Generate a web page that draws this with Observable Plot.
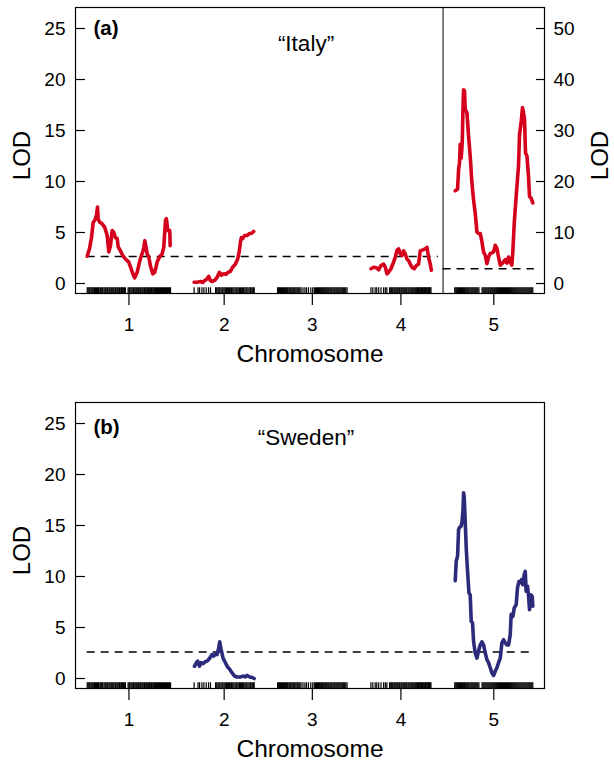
<!DOCTYPE html>
<html><head><meta charset="utf-8">
<script src="https://cdn.jsdelivr.net/npm/d3@7"></script>
<script src="https://cdn.jsdelivr.net/npm/@observablehq/plot@0.6"></script>
<style>
body{margin:0;background:#fff;width:614px;}
#chart svg{display:block;}
</style></head><body><div id="chart"></div>
<script>
// ---- data ----
const chromosomes = [1, 2, 3, 4, 5];
const chromLengths = [107, 77, 89, 78, 100]; // cM
const chromGap = 30;                           // cM between chromosomes
const tickLabels = ["1", "2", "3", "4", "5"];
const yTicks = [0, 5, 10, 15, 20, 25];
const rightTickLabels = [0, 10, 20, 30, 40, 50];
const italyThreshold = 2.65;
const italyThresholdChr5 = 2.9;   // right-axis units
const swedenThreshold = 2.6;

// marker positions (cM within chromosome)
const markers1 = [0,1.2,2.5,3.4,4.8,6,7.1,8.5,9.3,10.6,12,13.1,14.5,15.2,16.8,18,19.3,20.1,21.7,23,24.2,25.5,26.3,27.9,29,30.4,31.5,32.8,34,35.6,36.5,38,39.2,40.6,41.5,43,44.1,45.5,46.3,47.8,49,52.4,53.6,54.5,56,57.2,58.6,59.5,61,62.3,63.5,64.8,66,67.4,68.5,70,71.2,72.6,73.5,75,76.3,77.5,78.8,80,81.4,82.5,84,85.2,86.5,87.6,89,90.2,91.5,92.8,94,95.3,96.5,97.8,99,100.4,101.5,103,104.2,105.5,106.8];
const markers2 = [0,5,7,10,12.5,15.5,18.5,21,27.5,29,30.5,31.8,33,34.5,36,37,38.5,40,41.5,42.5,44,45.5,47,48,49.5,51,52.5,54,55,56.5,58,59.5,61,62,63.5,65,66.5,67.5,69,70.5,72,73,74.5,76,77];
const markers3 = [0,1.3,2.5,3.6,5,6.2,7.5,8.6,10,11.2,12.4,13.5,15,16.1,17.4,18.6,20,21.2,22.3,23.6,25,26.1,27.3,28.5,30,32.5,35,37,39.5,42.5,45,47,48.5,49.8,51,52.3,53.5,54.7,56,57.3,58.5,59.8,61,62.4,63.5,64.8,66,67.3,68.5,69.7,71,72.4,73.5,74.8,76,77.2,78.5,79.8,81,82.4,83.5,84.7,86,87.3,89];
const markers4 = [0.6,3,6,8,10.5,13.5,16.8,19,21,24.5,26,27.2,28.5,30,31.2,32.5,33.8,35,36.3,37.5,39,40.2,41.5,42.8,44,45.3,46.5,48,49.2,50.5,51.8,53,54.2,55.5,56.8,58,59.2,60.5,61.5,62.5,63.5,64.5,65.5,66.5,67.5,68.5,69.5,70.5,71.5,72.5,73.5,74.5,75.5,76.5,77.5];
const markers5 = [0,1.3,2.5,3.7,5,6.2,7.4,8.6,9.8,11,12.3,13.5,14.7,16,17.2,18.4,19.6,21,22.2,23.4,24.6,25.8,27,28.3,29.5,31,35,36.3,37.5,38.8,40,41.2,42.5,43.7,45,46.2,47.5,48.7,50,51.2,52.5,53.7,55,56.2,57.5,58.7,60,61.2,62.5,63.7,65,66.2,67.5,68.7,70,71.2,72.5,73.7,75,76.2,77.5,78.7,80,81.2,82.5,83.7,85,86.2,87.5,88.7,90,91.2,92.5,93.7,95,96.2,97.5,98.7,100];

// Italy LOD profiles [cM, LOD]
const italy1 = [[0,2.68],[2.9,3.4],[5.5,4.5],[7.7,6.0],[9.7,6.2],[11.9,6.7],[13.2,7.5],[14.1,6.3],[16.1,6.0],[19.2,5.85],[22.5,5.5],[25.6,4.7],[27.7,3.1],[29.8,3.7],[32,5.2],[34.1,5.0],[36.2,4.5],[38.4,4.4],[39.7,3.6],[42.6,3.2],[45.6,2.75],[49,2.4],[51.2,2.25],[53.2,2.1],[56.3,1.45],[58.4,0.95],[60.9,0.55],[64,1.1],[67,2.1],[69.5,2.75],[71.2,3.1],[72.5,3.55],[73.8,4.2],[75.5,3.55],[76.8,2.9],[78.9,2.6],[81,1.75],[84,0.95],[86.6,1.1],[89.6,2.1],[92.6,2.6],[96,2.9],[98.1,3.55],[100.3,6.2],[101.5,6.35],[103.2,5.2],[105.8,5.2],[106.3,3.7]];
const italy2 = [[0,0.13],[3.8,0.13],[8.1,0.2],[11,0.1],[13.6,0.3],[16.6,0.45],[18.7,0.7],[20.9,0.3],[23,0.2],[26.4,0.3],[29.4,0.6],[32.4,1.1],[35,0.8],[37.9,0.95],[41,0.9],[43.5,1.1],[46.5,1.2],[49.4,1.6],[52.9,1.9],[55.8,2.4],[58,3.2],[59.3,4.05],[60.6,4.5],[62.2,4.4],[64.8,4.7],[67.9,4.7],[70.8,4.9],[73.4,4.9],[76.3,5.1]];
const italy4 = [[0.6,1.45],[4,1.6],[7.4,1.55],[10.4,1.35],[13.4,1.75],[16.8,1.9],[19,1.6],[21.1,0.95],[23.2,1.1],[26.2,1.45],[29.6,2.1],[31.8,2.6],[33.9,3.25],[36,3.4],[38.2,2.9],[40.3,2.75],[42.4,3.2],[44.6,2.9],[46.7,2.4],[48.8,2.25],[51,1.9],[53.1,1.6],[56.1,1.45],[58.6,1.75],[61.6,1.9],[63.8,3.2],[67.2,3.3],[70.2,3.4],[72.4,3.55],[74.4,2.6],[76.6,1.9],[78,1.3]];
// chromosome 5 in right-axis units (0-50)
const italy5 = [[0.6,18.2],[3.6,18.5],[4.9,22.3],[6.1,23.7],[7,27.3],[8.3,24.6],[9.6,27.6],[10.5,34.2],[11.3,38.0],[12.5,37.8],[13.4,34.2],[15.6,33.5],[17.7,28.9],[19.8,25.0],[22,19.7],[24.1,16.4],[26.2,13.8],[28.4,10.1],[30.5,9.8],[32.7,9.8],[34.8,8.2],[36.9,6.2],[39.1,5.5],[41.2,3.9],[43.3,5.2],[45.5,5.9],[47.6,6.0],[49.7,6.2],[51.9,7.5],[54,6.9],[56.1,5.2],[58.3,3.6],[60.4,3.9],[62.5,4.2],[64.7,4.7],[66.8,4.0],[68.9,5.2],[71.1,4.2],[73.2,3.6],[74.5,6.5],[76.2,11.8],[78.7,17.1],[81.7,23.0],[83,29.2],[85.1,31.6],[86.8,34.5],[88.1,33.5],[89.4,32.2],[90.7,25.6],[92.5,25.0],[94.5,21.0],[95.8,17.1],[98,16.7],[100,15.8]];

// Sweden LOD profiles [cM, LOD]
const sweden2 = [[0.4,1.2],[2.9,1.55],[4.6,1.7],[6.8,1.2],[9,1.55],[11.5,1.45],[14.5,1.65],[17.4,1.75],[20,2.0],[23,2.35],[25.1,2.2],[27.3,2.4],[29.4,2.35],[31.5,3.0],[32.8,3.6],[34.6,2.85],[37.1,2.0],[40.1,1.55],[42.3,1.2],[45.6,0.9],[48.7,0.55],[51.6,0.25],[55.1,0.15],[59.3,0.15],[63.5,0.25],[65.7,0.15],[67.9,0.3],[71.2,0.15],[74.3,0.1],[77,0.0]];
const sweden5 = [[0.6,9.6],[1.9,11.5],[3.6,12.0],[4.9,14.6],[6.1,14.8],[7.9,14.9],[9.2,15.3],[10.5,16.4],[11.3,18.2],[12.2,17.7],[13.4,15.4],[14.7,12.8],[16.4,10.5],[18.2,8.4],[19.8,8.2],[21.1,5.6],[22.8,5.45],[24.1,3.65],[26.2,2.5],[28.4,2.0],[30.5,2.7],[32.7,3.3],[34.8,3.6],[36.9,3.3],[39.1,2.5],[41.2,1.85],[43.3,1.55],[45.5,1.05],[47.6,0.55],[49.7,0.3],[51.9,0.7],[54,1.05],[56.1,1.55],[58.3,2.0],[60.4,3.5],[62.5,3.8],[64.7,3.5],[66.8,3.3],[68.9,3.3],[71.1,4.3],[72.3,6.3],[74.5,6.1],[76.2,6.9],[78.7,7.25],[80.4,8.9],[82.2,9.5],[83.9,9.4],[85.5,9.7],[87.3,9.2],[89,10.2],[90.3,10.5],[91.5,8.55],[93.2,9.05],[94.5,8.2],[95.8,6.75],[97.6,8.2],[99.2,8.05],[100,7.1]];

// ---- derived tables ----
const offsets = chromLengths.map((_, i) => d3.sum(chromLengths.slice(0, i)) + i * chromGap);
const genomeEnd = offsets[4] + chromLengths[4];
const mids = chromLengths.map((L, i) => offsets[i] + L / 2);
const dividerX = offsets[3] + chromLengths[3] + chromGap / 2;
const markerSets = [markers1, markers2, markers3, markers4, markers5];
const rug = markerSets.flatMap((arr, i) => arr.map(p => ({gx: offsets[i] + p})));
const toRows = (arr, chr, scale = 1) => arr.map(([p, l]) => ({chr, gx: offsets[chr - 1] + p, y: l * scale}));

const italyRows = [
  ...toRows(italy1, 1), ...toRows(italy2, 2), ...toRows(italy4, 4),
  ...toRows(italy5, 5, 25 / 50)
];
const swedenRows = [...toRows(sweden2, 2), ...toRows(sweden5, 5)];

const FONT = "'Liberation Sans', Arial, Helvetica, sans-serif";
const margin = 15;

function panel({rows, color, thresholds, tag, tagDy, title, titleDy, height, marginBottom, rightAxis}) {
  const marks = [
    Plot.ruleX(rug, {x: "gx", y1: -0.98, y2: -0.42, stroke: "#000", strokeWidth: 1.2}),
    Plot.ruleY(thresholds, {y: "y", x1: "x1", x2: "x2", stroke: "#000", strokeWidth: 1.4, strokeDasharray: "8,6"}),
    Plot.line(rows, {x: "gx", y: "y", z: "chr", stroke: color, strokeWidth: 3.6, strokeLinejoin: "round", strokeLinecap: "round"}),
    Plot.axisY(yTicks, {anchor: "left", tickSize: -10, tickPadding: 20, fontSize: 19, label: null, strokeWidth: 1.2}),
    Plot.axisX(mids, {anchor: "bottom", tickSize: 12, tickPadding: 12, fontSize: 19, label: null, strokeWidth: 1.2,
      tickFormat: d => tickLabels[mids.indexOf(d)]}),
    Plot.text(["LOD"], {text: d => d, frameAnchor: "left", dx: -53, dy: 5, rotate: -90, textAnchor: "middle", lineAnchor: "middle", fontSize: 24}),
    Plot.text(["Chromosome"], {text: d => d, frameAnchor: "bottom", dy: 61, textAnchor: "middle", lineAnchor: "middle", fontSize: 24.5}),
    Plot.text([tag], {text: d => d, frameAnchor: "top-left", dx: 18, dy: tagDy, textAnchor: "start", lineAnchor: "middle", fontWeight: "bold", fontSize: 20.5}),
    Plot.text([title], {text: d => d, frameAnchor: "top", dx: -4, dy: titleDy, textAnchor: "middle", lineAnchor: "middle", fontSize: 22.5}),
    Plot.frame({stroke: "#000", strokeWidth: 1.2})
  ];
  if (rightAxis) {
    marks.push(
      Plot.ruleX([dividerX], {stroke: "#000", strokeWidth: 1}),
      Plot.axisY(yTicks, {anchor: "right", tickSize: -9, tickPadding: 18, fontSize: 19, label: null, strokeWidth: 1.2,
        tickFormat: d => rightTickLabels[yTicks.indexOf(d)]}),
      Plot.text(["LOD"], {text: d => d, frameAnchor: "right", dx: 56, dy: 5, rotate: -90, textAnchor: "middle", lineAnchor: "middle", fontSize: 24})
    );
  }
  return Plot.plot({
    width: 614, height,
    marginLeft: 75, marginRight: 70, marginTop: 7, marginBottom,
    style: {fontFamily: FONT, color: "#000", background: "#fff", overflow: "visible"},
    x: {domain: [-margin, genomeEnd + margin]},
    y: {domain: [-0.98, 27.06]},
    marks
  });
}

const chart = document.getElementById("chart");
chart.append(panel({
  rows: italyRows, color: "#d5001c",
  thresholds: [
    {y: italyThreshold, x1: 0, x2: dividerX - 6},
    {y: italyThresholdChr5 * 25 / 50, x1: dividerX, x2: genomeEnd + 2}
  ],
  tag: "(a)", tagDy: 21, title: "\u201CItaly\u201D", titleDy: 36,
  height: 395, marginBottom: 102, rightAxis: true
}));
chart.append(panel({
  rows: swedenRows, color: "#2b2a7b",
  thresholds: [{y: swedenThreshold, x1: 0, x2: genomeEnd + 2}],
  tag: "(b)", tagDy: 25, title: "\u201CSweden\u201D", titleDy: 35,
  height: 370, marginBottom: 77, rightAxis: false
}));
</script></body></html>
